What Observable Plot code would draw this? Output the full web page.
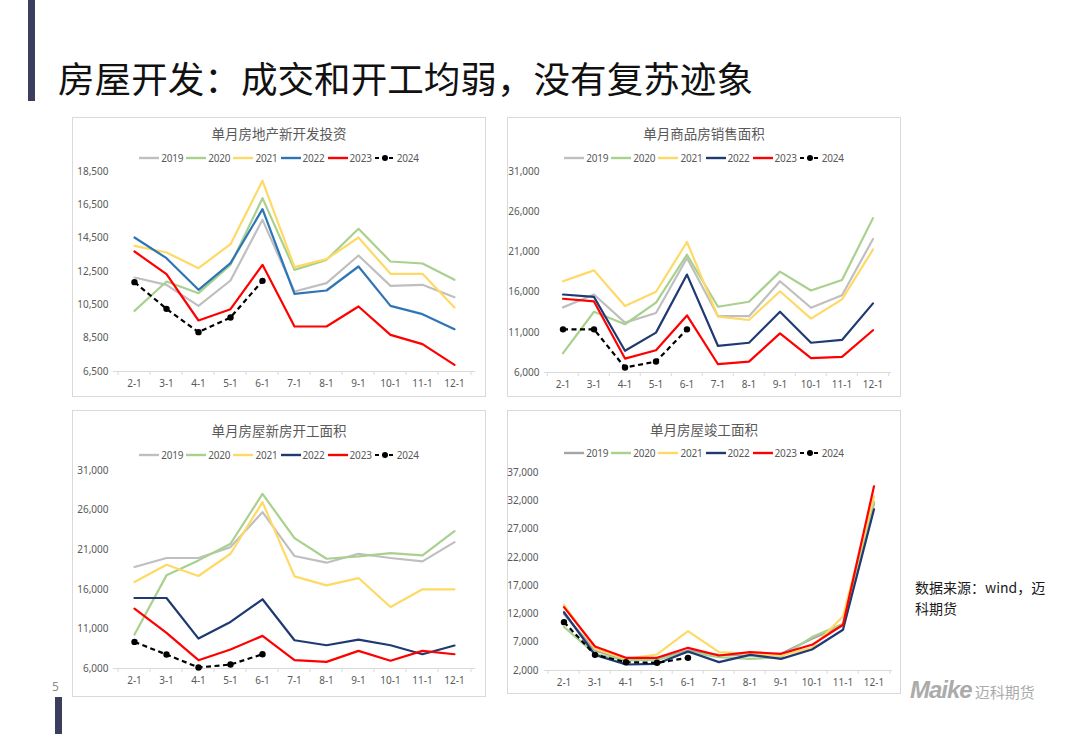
<!DOCTYPE html>
<html><head><meta charset="utf-8">
<script src="https://cdn.jsdelivr.net/npm/d3@7"></script>
<script src="https://cdn.jsdelivr.net/npm/@observablehq/plot@0.6"></script>
<style>
html,body{margin:0;padding:0;background:#fff;}
body{width:1080px;height:734px;position:relative;overflow:hidden;font-family:"Noto Sans CJK SC","Noto Sans",sans-serif;}
.abs{position:absolute;}
.box{position:absolute;border:1px solid #d9d9d9;box-sizing:border-box;}
.ptitle{position:absolute;text-align:center;font-size:13.5px;color:#595959;line-height:14px;height:14px;}
.legend{position:absolute;display:flex;justify-content:center;align-items:center;font-size:10px;color:#595959;line-height:12px;height:12px;font-family:"Noto Sans","Noto Sans CJK SC",sans-serif;letter-spacing:-0.2px;}
.legend .item{display:flex;align-items:center;margin:0 1.5px;}
.legend svg{margin-right:2px;}
</style></head><body>
<script>
const months = ["2-1","3-1","4-1","5-1","6-1","7-1","8-1","9-1","10-1","11-1","12-1"];
const years = ["2019","2020","2021","2022","2023","2024"];

// 单月房地产新开发投资
const inv2019 = [12140, 11700, 10440, 11960, 15600, 11300, 11800, 13460, 11640, 11700, 10960];
const inv2020 = [10140, 11900, 11200, 12900, 16900, 12600, 13200, 15060, 13100, 12980, 12000];
const inv2021 = [14040, 13640, 12700, 14140, 17940, 12760, 13240, 14540, 12360, 12360, 10340];
const inv2022 = [14540, 13300, 11400, 13000, 16240, 11160, 11360, 12800, 10440, 9940, 9040];
const inv2023 = [13700, 12340, 9560, 10240, 12900, 9200, 9200, 10400, 8700, 8140, 6900];
const inv2024 = [11860, 10260, 8860, 9740, 11940];
const invTicks = [6500, 8500, 10500, 12500, 14500, 16500, 18500];

// 单月商品房销售面积
const sal2019 = [14100, 15700, 12200, 13400, 20250, 13000, 13000, 17350, 14050, 15600, 22600];
const sal2020 = [8400, 13560, 12000, 14700, 20650, 14180, 14800, 18550, 16200, 17500, 25200];
const sal2021 = [17350, 18700, 14260, 16040, 22230, 12940, 12530, 16100, 12700, 15100, 21300];
const sal2022 = [15700, 15400, 8700, 10960, 18180, 9300, 9700, 13560, 9700, 10050, 14600];
const sal2023 = [15170, 14840, 7730, 8770, 13100, 7030, 7360, 10870, 7780, 7940, 11250];
const sal2024 = [11370, 11370, 6620, 7360, 11370];
const salTicks = [6000, 11000, 16000, 21000, 26000, 31000];

// 单月房屋新房开工面积
const st2019 = [18810, 19950, 19950, 21330, 25740, 20200, 19360, 20490, 19950, 19520, 21960];
const st2020 = [10280, 17760, 19650, 21750, 28050, 22460, 19860, 20150, 20570, 20280, 23350];
const st2021 = [16920, 19100, 17680, 20490, 27000, 17630, 16500, 17420, 13770, 16000, 16000];
const st2022 = [14900, 14900, 9780, 11880, 14740, 9570, 8940, 9650, 8940, 7800, 8900];
const st2023 = [13560, 10500, 7050, 8400, 10120, 7050, 6840, 8230, 6970, 8230, 7800];
const st2024 = [9360, 7760, 6130, 6500, 7800];
const stTicks = [6000, 11000, 16000, 21000, 26000, 31000];

// 单月房屋竣工面积
const cp2019 = [12000, 5540, 3900, 4060, 5540, 4770, 4650, 4950, 7600, 9970, 31500];
const cp2020 = [9700, 4950, 3770, 3900, 5250, 4360, 4060, 4360, 7900, 10260, 31800];
const cp2021 = [13620, 5830, 4060, 4830, 8960, 5250, 4950, 4650, 6010, 11600, 32800];
const cp2022 = [12300, 4770, 3060, 3180, 5360, 3480, 4770, 4060, 5720, 9200, 30500];
const cp2023 = [13200, 6250, 4240, 4240, 6010, 4650, 5250, 4950, 6540, 10080, 34570];
const cp2024 = [10550, 4770, 3480, 3360, 4240];
const cpTicks = [2000, 7000, 12000, 17000, 22000, 27000, 32000, 37000];

const colorsA = ["#BFBFBF", "#A9D18E", "#FFD966", "#2E75B6", "#FF0000", "#000000"];
const colorsB = ["#BFBFBF", "#A9D18E", "#FFD966", "#1F3A73", "#FF0000", "#000000"];
const colorsC = ["#A5A5A5", "#A9D18E", "#FFD966", "#1F3A73", "#FF0000", "#000000"];

const FONT = "'Noto Sans','Noto Sans CJK SC',sans-serif";

function el(tag, cls, style, html) {
  const e = document.createElement(tag);
  if (cls) e.className = cls;
  Object.assign(e.style, style || {});
  if (html != null) e.innerHTML = html;
  document.body.appendChild(e);
  return e;
}

function legend(colors, left, top, width) {
  const lg = el("div", "legend", {left: left + "px", top: (top - 6) + "px", width: width + "px"});
  years.forEach((yr, i) => {
    const dashed = yr === "2024";
    const sw = dashed
      ? `<svg width="20" height="8"><line x1="0" y1="4" x2="20" y2="4" stroke="#000" stroke-width="2.2" stroke-dasharray="4,3"/><circle cx="10" cy="4" r="3" fill="#000"/></svg>`
      : `<svg width="20" height="8"><line x1="0" y1="4" x2="20" y2="4" stroke="${colors[i]}" stroke-width="2.4"/></svg>`;
    const it = document.createElement("div");
    it.className = "item";
    it.innerHTML = sw + `<span>${yr}</span>`;
    lg.appendChild(it);
  });
}

function panel(cfg) {
  el("div", "box", {left: cfg.box[0] + "px", top: cfg.box[1] + "px", width: cfg.box[2] + "px", height: cfg.box[3] + "px"});
  el("div", "ptitle", {left: cfg.box[0] + "px", width: cfg.box[2] + "px", top: (cfg.titleY - 7) + "px"}, cfg.title);
  legend(cfg.colors, cfg.box[0], cfg.legendY, cfg.box[2]);

  const rows = [];
  years.forEach((yr, i) => cfg.series[i].forEach((v, j) => rows.push({month: months[j], year: yr, value: v})));
  const main = rows.filter(d => d.year !== "2024");
  const cur = rows.filter(d => d.year === "2024");
  const bw = (cfg.width - cfg.ml - cfg.mr) / months.length;
  const lo = cfg.ticks[0], hi = cfg.ticks[cfg.ticks.length - 1];

  const chart = Plot.plot({
    width: cfg.width, height: cfg.height,
    marginTop: cfg.mt, marginBottom: cfg.mb, marginLeft: cfg.ml, marginRight: cfg.mr,
    style: {fontFamily: FONT, fontSize: "10px", color: "#595959", background: "transparent", overflow: "visible"},
    x: {type: "band", domain: months, padding: 0, label: null},
    y: {domain: [lo, hi], label: null},
    color: {domain: years, range: cfg.colors},
    marks: [
      Plot.ruleY([lo], {stroke: "#d9d9d9", strokeWidth: 1}),
      Plot.axisX({tickSize: 4, tickFormat: () => "", dx: -bw / 2, stroke: "#d9d9d9", label: null}),
      Plot.axisX({ticks: [months[months.length - 1]], tickSize: 4, tickFormat: () => "", dx: bw / 2, stroke: "#d9d9d9", label: null}),
      Plot.axisX({tickSize: 0, tickPadding: 8, label: null, fill: "#595959"}),
      Plot.axisY({ticks: cfg.ticks, tickSize: 0, tickPadding: cfg.tp, tickFormat: d3.format(","), label: null, fill: "#595959"}),
      Plot.line(main, {x: "month", y: "value", z: "year", stroke: "year", strokeWidth: 2.2}),
      Plot.line(cur, {x: "month", y: "value", stroke: "#000", strokeWidth: 2.2, strokeDasharray: "5,3.5", strokeLinecap: "butt"}),
      Plot.dot(cur, {x: "month", y: "value", r: 3.2, fill: "#000"})
    ]
  });
  const wrap = el("div", "abs", {left: cfg.svg[0] + "px", top: cfg.svg[1] + "px"});
  wrap.appendChild(chart);
}

// slide decorations & title
el("div", "abs", {left: "28px", top: "0px", width: "7px", height: "101px", background: "#3b3e5c"});
el("div", "abs", {left: "55px", top: "697px", width: "7px", height: "37px", background: "#3b3e5c"});
el("div", "abs", {left: "58px", top: "59px", fontSize: "36.6px", lineHeight: "37px", color: "#111", whiteSpace: "nowrap"}, "房屋开发：成交和开工均弱，没有复苏迹象");
el("div", "abs", {left: "52px", top: "678px", fontSize: "12px", color: "#8c8c8c", fontFamily: FONT}, "5");
el("div", "abs", {left: "915px", top: "577px", fontSize: "14px", lineHeight: "20.5px", color: "#1a1a1a", whiteSpace: "nowrap"}, "数据来源：wind，迈");
el("div", "abs", {left: "915px", top: "597.5px", fontSize: "14px", lineHeight: "20.5px", color: "#1a1a1a", whiteSpace: "nowrap"}, "科期货");
el("div", "abs", {left: "910px", top: "676px", whiteSpace: "nowrap", color: "#ababab"},
  `<span style="font-family:'Liberation Sans',Arial,sans-serif;font-weight:bold;font-style:italic;font-size:24px;letter-spacing:-1px;">Maike</span><span style="font-size:15px;margin-left:3px;">迈科期货</span>`);

panel({title: "单月房地产新开发投资", series: [inv2019, inv2020, inv2021, inv2022, inv2023, inv2024], ticks: invTicks, colors: colorsA,
  box: [72, 117, 414, 280], titleY: 133, legendY: 158, svg: [72, 160], width: 414, height: 236, mt: 11, mb: 25, ml: 41, mr: 11, tp: 5});
panel({title: "单月商品房销售面积", series: [sal2019, sal2020, sal2021, sal2022, sal2023, sal2024], ticks: salTicks, colors: colorsB,
  box: [507, 117, 394, 280], titleY: 133, legendY: 158, svg: [507, 160], width: 394, height: 236, mt: 11, mb: 24, ml: 37, mr: 10, tp: 5});
panel({title: "单月房屋新房开工面积", series: [st2019, st2020, st2021, st2022, st2023, st2024], ticks: stTicks, colors: colorsB,
  box: [72, 410, 414, 287], titleY: 430, legendY: 455, svg: [72, 460], width: 414, height: 236, mt: 10, mb: 28, ml: 41, mr: 11, tp: 5});
panel({title: "单月房屋竣工面积", series: [cp2019, cp2020, cp2021, cp2022, cp2023, cp2024], ticks: cpTicks, colors: colorsC,
  box: [507, 410, 394, 284], titleY: 429, legendY: 453, svg: [507, 462], width: 394, height: 230, mt: 10, mb: 22, ml: 37, mr: 9, tp: 6});
</script>
</body></html>
